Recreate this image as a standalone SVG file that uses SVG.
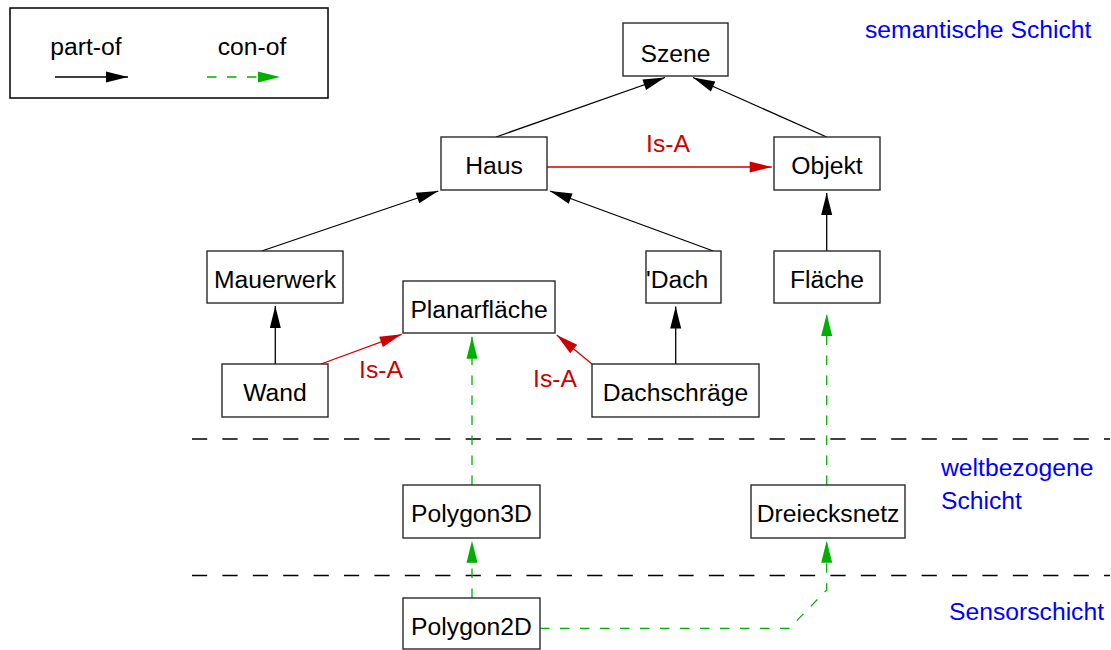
<svg xmlns="http://www.w3.org/2000/svg" width="1111" height="650" viewBox="0 0 1111 650">
  <style>
    text { font-family: "Liberation Sans", Arial, Helvetica, sans-serif; font-size: 24.7px; }
    .node rect { fill: #ffffff; stroke: #2a2a2a; stroke-width: 1.4; }
    .node text { fill: #000000; text-anchor: middle; }
    .part { stroke: #000000; stroke-width: 1.3; fill: none; marker-end: url(#headBlack); }
    .isa { stroke: #cc0000; stroke-width: 1.3; fill: none; marker-end: url(#headRed); }
    .con { stroke: #00b000; stroke-width: 1.3; fill: none; stroke-dasharray: 9.5 10.5; marker-end: url(#headGreen); }
    .sep { stroke: #000000; stroke-width: 1.3; stroke-dasharray: 15.2 15.2; fill: none; }
    .label-isa { fill: #cc0000; text-anchor: middle; }
    .layer { fill: #0000ff; }
  </style>
  <defs>
    <marker id="headBlack" markerUnits="userSpaceOnUse" markerWidth="22" markerHeight="11" refX="22" refY="5.5" orient="auto" overflow="visible">
      <path d="M0,0 L22,5.5 L0,11 z" fill="#000000" stroke="none"/>
    </marker>
    <marker id="headRed" markerUnits="userSpaceOnUse" markerWidth="22" markerHeight="11" refX="22" refY="5.5" orient="auto" overflow="visible">
      <path d="M0,0 L22,5.5 L0,11 z" fill="#cc0000" stroke="none"/>
    </marker>
    <marker id="headGreen" markerUnits="userSpaceOnUse" markerWidth="22" markerHeight="11" refX="22" refY="5.5" orient="auto" overflow="visible">
      <path d="M0,0 L22,5.5 L0,11 z" fill="#00b000" stroke="none"/>
    </marker>
  </defs>

  <!-- legend -->
  <g id="legend">
    <rect x="10" y="8" width="318" height="90" fill="#ffffff" stroke="#000000" stroke-width="1.5"/>
    <text x="86" y="55" text-anchor="middle">part-of</text>
    <text x="252" y="55" text-anchor="middle">con-of</text>
    <line class="part" x1="55" y1="77" x2="128" y2="77"/>
    <line class="con" x1="207" y1="77" x2="280" y2="77"/>
  </g>

  <!-- layer separators -->
  <g id="separators">
    <line class="sep" x1="192" y1="439" x2="1110" y2="439"/>
    <line class="sep" x1="192" y1="575.5" x2="1110" y2="575.5"/>
  </g>

  <!-- layer names -->
  <g id="layers">
    <text class="layer" x="865" y="38">semantische Schicht</text>
    <text class="layer" x="941" y="476">weltbezogene</text>
    <text class="layer" x="941" y="509">Schicht</text>
    <text class="layer" x="949" y="620">Sensorschicht</text>
  </g>

  <!-- connectors -->
  <g id="connectors">
    <!-- part-of -->
    <line class="part" x1="496" y1="137" x2="665" y2="77.5"/>
    <line class="part" x1="826.7" y1="137" x2="693" y2="77.5"/>
    <line class="part" x1="261.7" y1="251" x2="438.3" y2="191"/>
    <line class="part" x1="713.3" y1="251" x2="550" y2="191"/>
    <line class="part" x1="826.7" y1="251" x2="826.7" y2="193"/>
    <line class="part" x1="275.3" y1="364" x2="275.3" y2="306"/>
    <line class="part" x1="675.7" y1="364" x2="675.7" y2="306.5"/>
    <!-- is-a -->
    <line class="isa" x1="547" y1="167" x2="771.7" y2="167"/>
    <line class="isa" x1="321" y1="364" x2="401.7" y2="334.3"/>
    <line class="isa" x1="592" y1="364" x2="556.7" y2="335"/>
    <!-- con-of -->
    <line class="con" x1="472" y1="485" x2="472" y2="336.7"/>
    <line class="con" x1="826.7" y1="485" x2="826.7" y2="314"/>
    <line class="con" x1="472" y1="598" x2="472" y2="540.7"/>
    <polyline class="con" points="540,628.3 789.3,628.3 826.7,590 826.7,540.7"/>
    <!-- is-a labels -->
    <text class="label-isa" x="668" y="152">Is-A</text>
    <text class="label-isa" x="381" y="378">Is-A</text>
    <text class="label-isa" x="555" y="387">Is-A</text>
  </g>

  <!-- nodes -->
  <g id="szene" class="node">
    <rect x="623" y="23" width="105" height="53"/>
    <text x="675.5" y="61.5">Szene</text>
  </g>
  <g id="haus" class="node">
    <rect x="441" y="137" width="106" height="53"/>
    <text x="494" y="174.3">Haus</text>
  </g>
  <g id="objekt" class="node">
    <rect x="774" y="137" width="106" height="53"/>
    <text x="827" y="174.3">Objekt</text>
  </g>
  <g id="mauerwerk" class="node">
    <rect x="207" y="251" width="136" height="52"/>
    <text x="275" y="287.7">Mauerwerk</text>
  </g>
  <g id="dach" class="node">
    <rect x="646" y="251" width="75" height="52"/>
    <text x="646" y="287.5" style="text-anchor:start">'Dach</text>
  </g>
  <g id="flaeche" class="node">
    <rect x="774" y="251" width="106" height="52"/>
    <text x="827" y="287.5">Fläche</text>
  </g>
  <g id="planarflaeche" class="node">
    <rect x="403" y="281" width="152" height="52"/>
    <text x="479" y="318.3">Planarfläche</text>
  </g>
  <g id="wand" class="node">
    <rect x="222" y="364" width="106" height="53"/>
    <text x="275" y="400.7">Wand</text>
  </g>
  <g id="dachschraege" class="node">
    <rect x="592" y="364" width="167" height="53"/>
    <text x="675.5" y="401">Dachschräge</text>
  </g>
  <g id="polygon3d" class="node">
    <rect x="403" y="485" width="137" height="53"/>
    <text x="471.5" y="522">Polygon3D</text>
  </g>
  <g id="dreiecksnetz" class="node">
    <rect x="751" y="485" width="154" height="53"/>
    <text x="828" y="522">Dreiecksnetz</text>
  </g>
  <g id="polygon2d" class="node">
    <rect x="403" y="598" width="137" height="51"/>
    <text x="471.5" y="635">Polygon2D</text>
  </g>
</svg>
